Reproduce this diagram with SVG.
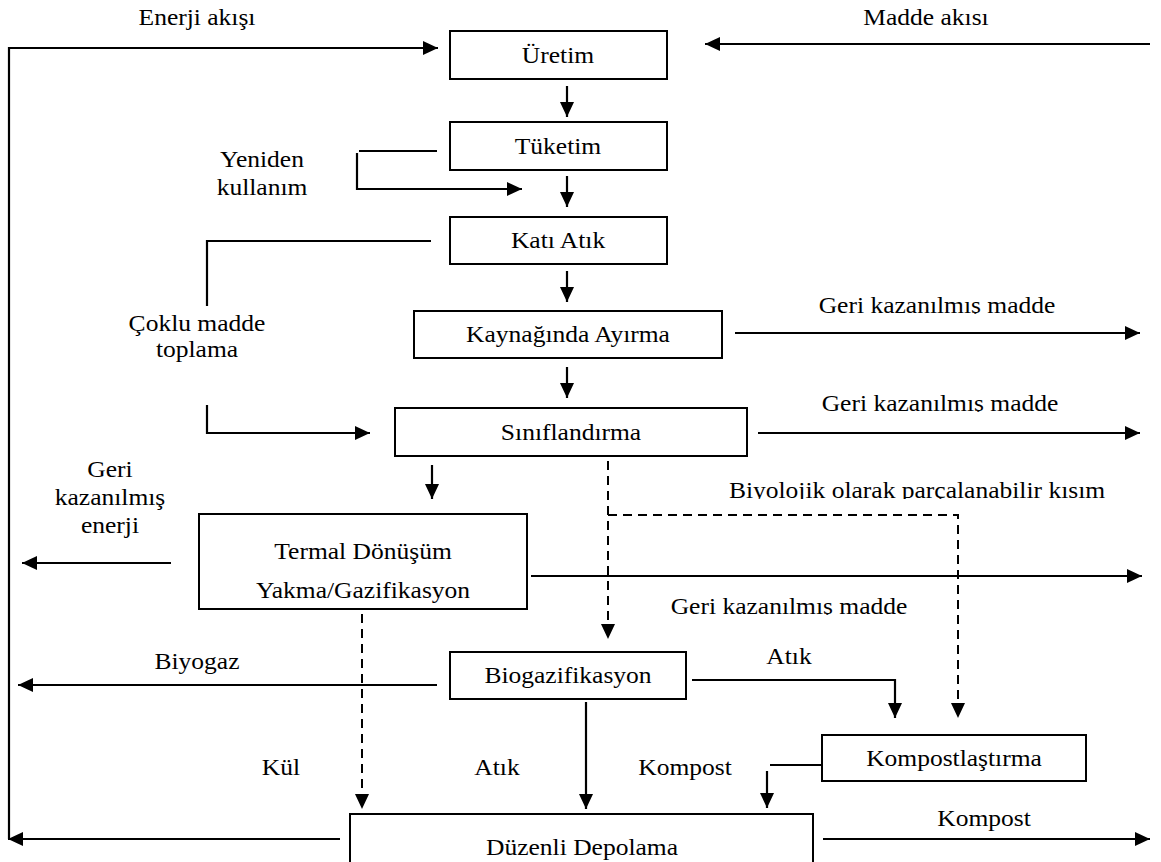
<svg xmlns="http://www.w3.org/2000/svg" width="1161" height="862" viewBox="0 0 1161 862">
<style>
.t{font-family:"Liberation Serif","Times New Roman",serif;font-size:23px;fill:#000;text-anchor:middle}
.box{fill:#fff;stroke:#000;stroke-width:2}
.ln{fill:none;stroke:#000;stroke-width:2.2}
.dash{fill:none;stroke:#000;stroke-width:2;stroke-dasharray:9 6}
</style>
<defs>
<marker id="ah" markerUnits="userSpaceOnUse" markerWidth="16" markerHeight="14" refX="15" refY="7" orient="auto">
<path d="M0,0 L15,7 L0,14 Z" fill="#000"/>
</marker>
<clipPath id="c1"><rect x="700" y="280" width="461" height="34"/></clipPath>
<clipPath id="c2"><rect x="700" y="380" width="461" height="32"/></clipPath>
<clipPath id="c3"><rect x="600" y="585" width="400" height="30"/></clipPath>
<clipPath id="c4"><rect x="650" y="470" width="511" height="29"/></clipPath>
</defs>
<rect width="1161" height="862" fill="#fff"/>

<g id="connectors">
<polyline class="ln" points="9,839 9,48 438,48" marker-end="url(#ah)"/>
<line class="ln" x1="1150" y1="44" x2="705" y2="44" marker-end="url(#ah)"/>
<line class="ln" x1="567" y1="86" x2="567" y2="117" marker-end="url(#ah)"/>
<line class="ln" x1="437" y1="151" x2="359" y2="151"/>
<polyline class="ln" points="357,153 357,189 522,189" marker-end="url(#ah)"/>
<line class="ln" x1="567" y1="176" x2="567" y2="207" marker-end="url(#ah)"/>
<polyline class="ln" points="431,241 207,241 207,306"/>
<polyline class="ln" points="207,405 207,433 370,433" marker-end="url(#ah)"/>
<line class="ln" x1="567" y1="271" x2="567" y2="302" marker-end="url(#ah)"/>
<line class="ln" x1="735" y1="333" x2="1140" y2="333" marker-end="url(#ah)"/>
<line class="ln" x1="567" y1="367" x2="567" y2="398" marker-end="url(#ah)"/>
<line class="ln" x1="758" y1="433" x2="1140" y2="433" marker-end="url(#ah)"/>
<line class="ln" x1="432" y1="465" x2="432" y2="499" marker-end="url(#ah)"/>
<line class="dash" x1="608" y1="461" x2="608" y2="639" marker-end="url(#ah)"/>
<polyline class="dash" points="608,515 958,515 958,718" marker-end="url(#ah)"/>
<line class="ln" x1="171" y1="563" x2="22" y2="563" marker-end="url(#ah)"/>
<line class="ln" x1="531" y1="576" x2="1142" y2="576" marker-end="url(#ah)"/>
<line class="dash" x1="362" y1="614" x2="362" y2="809" marker-end="url(#ah)"/>
<line class="ln" x1="437" y1="685" x2="18" y2="685" marker-end="url(#ah)"/>
<polyline class="ln" points="692,680 895,680 895,718" marker-end="url(#ah)"/>
<line class="ln" x1="586" y1="702" x2="586" y2="809" marker-end="url(#ah)"/>
<line class="ln" x1="822" y1="765" x2="770" y2="765"/>
<line class="ln" x1="767" y1="771" x2="767" y2="808" marker-end="url(#ah)"/>
<line class="ln" x1="340" y1="839" x2="8" y2="839" marker-end="url(#ah)"/>
<line class="ln" x1="823" y1="839" x2="1150" y2="839" marker-end="url(#ah)"/>
</g>

<g id="labels">
<text class="t" transform="translate(197,25) scale(1.11,1)">Enerji akışı</text>
<text class="t" transform="translate(926,25) scale(1.11,1)">Madde akısı</text>
<text class="t" transform="translate(262,167) scale(1.11,1)">Yeniden</text>
<text class="t" transform="translate(262,195) scale(1.11,1)">kullanım</text>
<text class="t" transform="translate(197,331) scale(1.11,1)">Çoklu madde</text>
<text class="t" transform="translate(197,357) scale(1.11,1)">toplama</text>
<g clip-path="url(#c1)"><text class="t" transform="translate(937,313) scale(1.11,1)">Geri kazanılmış madde</text></g>
<g clip-path="url(#c2)"><text class="t" transform="translate(940,411) scale(1.11,1)">Geri kazanılmış madde</text></g>
<g clip-path="url(#c4)"><text class="t" transform="translate(917,498) scale(1.11,1)">Biyolojik olarak parçalanabilir kısım</text></g>
<text class="t" transform="translate(110,477) scale(1.11,1)">Geri</text>
<text class="t" transform="translate(110,505) scale(1.11,1)">kazanılmış</text>
<text class="t" transform="translate(110,533) scale(1.11,1)">enerji</text>
<g clip-path="url(#c3)"><text class="t" transform="translate(789,614) scale(1.11,1)">Geri kazanılmış madde</text></g>
<text class="t" transform="translate(197,669) scale(1.11,1)">Biyogaz</text>
<text class="t" transform="translate(789,664) scale(1.11,1)">Atık</text>
<text class="t" transform="translate(281,775) scale(1.11,1)">Kül</text>
<text class="t" transform="translate(497,775) scale(1.11,1)">Atık</text>
<text class="t" transform="translate(685,775) scale(1.11,1)">Kompost</text>
<text class="t" transform="translate(984,826) scale(1.11,1)">Kompost</text>
</g>

<g id="uretim"><rect class="box" x="450" y="31" width="217" height="48"/><text class="t" transform="translate(558,63) scale(1.11,1)">Üretim</text></g>
<g id="tuketim"><rect class="box" x="450" y="122" width="217" height="48"/><text class="t" transform="translate(558,154) scale(1.11,1)">Tüketim</text></g>
<g id="kati-atik"><rect class="box" x="450" y="217" width="217" height="47"/><text class="t" transform="translate(558,248) scale(1.11,1)">Katı Atık</text></g>
<g id="kaynaginda-ayirma"><rect class="box" x="414" y="311" width="308" height="47"/><text class="t" transform="translate(568,342) scale(1.11,1)">Kaynağında Ayırma</text></g>
<g id="siniflandirma"><rect class="box" x="395" y="408" width="352" height="48"/><text class="t" transform="translate(571,440) scale(1.11,1)">Sınıflandırma</text></g>
<g id="termal"><rect class="box" x="199" y="514" width="328" height="95"/><text class="t" transform="translate(363,559) scale(1.11,1)">Termal Dönüşüm</text><text class="t" transform="translate(363,598) scale(1.11,1)">Yakma/Gazifikasyon</text></g>
<g id="biogazifikasyon"><rect class="box" x="450" y="652" width="236" height="47"/><text class="t" transform="translate(568,683) scale(1.11,1)">Biogazifikasyon</text></g>
<g id="kompostlastirma"><rect class="box" x="822" y="735" width="264" height="46"/><text class="t" transform="translate(954,766) scale(1.11,1)">Kompostlaştırma</text></g>
<g id="duzenli-depolama"><rect class="box" x="350" y="814" width="463" height="70"/><text class="t" transform="translate(582,855) scale(1.11,1)">Düzenli Depolama</text></g>
</svg>
